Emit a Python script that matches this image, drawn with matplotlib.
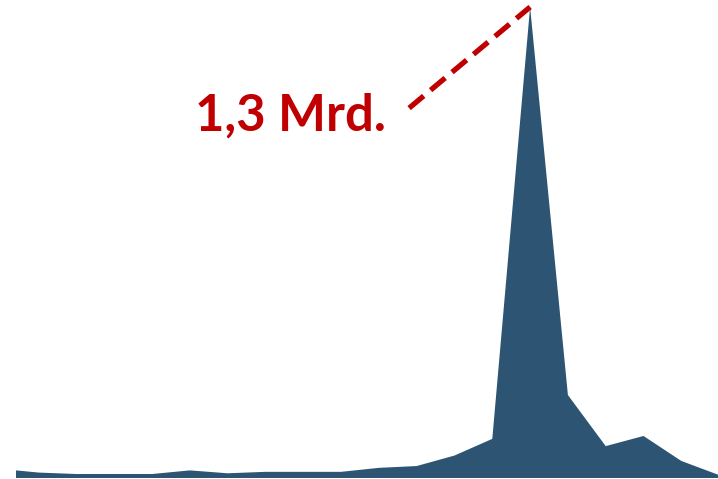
import matplotlib
matplotlib.use("Agg")
import matplotlib.pyplot as plt
import numpy as np

# Data (millions)
periods = list(range(20))
values = [25, 15, 11, 11, 11, 21, 13, 17, 17, 17, 28, 33, 62, 108, 1300, 229, 88, 116, 47, 8]
label = "1,3 Mrd."

fill_color = "#2D5573"
red = "#C00000"

fig = plt.figure(figsize=(7.18, 4.79), dpi=100)
ax = fig.add_axes([16/718, 1/479, (718-16)/718, 478/479])
ax.fill_between(periods, values, 0, color=fill_color, linewidth=0)
ax.set_xlim(0.402, 18.97)
ax.set_ylim(0, 1300*478/471)
ax.axis("off")

peak_i = int(np.argmax(values))
peak_v = values[peak_i]
ax.plot([10.80, peak_i], [1021, peak_v], color=red, lw=3.8,
        linestyle=(0, (3.6, 1.7)), solid_capstyle="butt", dash_capstyle="butt",
        clip_on=False)
ax.text(10.18, 960, label, color=red, fontsize=36.5, fontweight="bold",
        family="Lato", ha="right", va="baseline")

fig.savefig("out.png", dpi=100)
